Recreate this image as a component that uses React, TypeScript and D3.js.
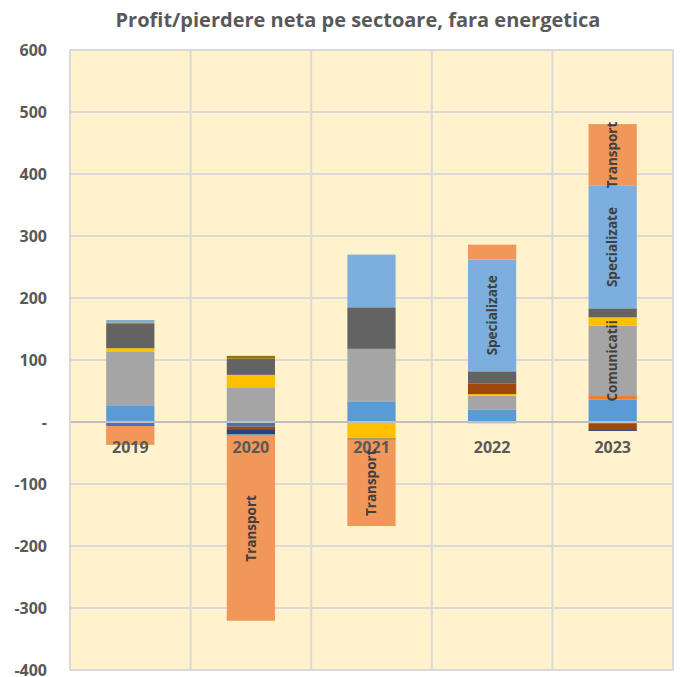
import React from "react";
import * as d3 from "d3";

// years on the category axis
const years = ["2019", "2020", "2021", "2022", "2023"];

// one array per sector, values in the order of `years`
const sectorBlue = [27, 0, 33, 19.5, 36.6];
const sectorOrange = [0, 0, 1, 0, 5.3];
const comunicatii = [86, 56, 84, 23, 113.4];
const sectorGold = [6, 20, -26.8, 2.5, 13.5];
const sectorBlue2 = [-6.5, -7.4, 0, 0, 0];
const sectorGreen = [0, 0, 0, -2, -2];
const sectorNavy = [0, 0, 0, 0, 0];
const sectorBrown = [0, -5.5, 0, 17.4, -11];
const sectorDarkGray = [40, 26.3, 67, 18.6, 14.5];
const sectorOlive = [1.5, 4.4, 0, 1, 0];
const sectorNavy2 = [0, -7.4, -1.5, 0, -1.5];
const sectorDarkGreen = [0, 0, 0, 0, 0];
const specializate = [4, -2.3, 85, 180, 197.7];
const transport = [-30.5, -298, -139.5, 24, 99.5];

const yTicks = [600, 500, 400, 300, 200, 100, 0, -100, -200, -300, -400];

const series = [
  { key: "Sector 1", values: sectorBlue, color: "#5B9BD5" },
  { key: "Sector 2", values: sectorOrange, color: "#ED7D31" },
  { key: "Comunicatii", values: comunicatii, color: "#A5A5A5" },
  { key: "Sector 4", values: sectorGold, color: "#FFC000" },
  { key: "Sector 5", values: sectorBlue2, color: "#4472C4" },
  { key: "Sector 6", values: sectorGreen, color: "#70AD47" },
  { key: "Sector 7", values: sectorNavy, color: "#255E91" },
  { key: "Sector 8", values: sectorBrown, color: "#9E480E" },
  { key: "Sector 9", values: sectorDarkGray, color: "#636363" },
  { key: "Sector 10", values: sectorOlive, color: "#997300" },
  { key: "Sector 11", values: sectorNavy2, color: "#264478" },
  { key: "Sector 12", values: sectorDarkGreen, color: "#43682B" },
  { key: "Specializate", values: specializate, color: "#7CAFDD" },
  { key: "Transport", values: transport, color: "#F1975A" },
];

// only these sectors get a label inside the bar, when the slice is big enough
const labelled = ["Comunicatii", "Specializate", "Transport"];

const W = 681;
const H = 677;
const left = 70, right = 673, top = 50, bottom = 670;
const FONT = "'Open Sans', sans-serif";

export default function App() {
  const rows = years.map((year, i) => {
    const row: any = { year };
    series.forEach((s) => (row[s.key] = s.values[i]));
    return row;
  });

  const stack = d3
    .stack()
    .keys(series.map((s) => s.key))
    .offset(d3.stackOffsetDiverging);
  const layers = stack(rows);

  const x = d3.scaleBand().domain(years).range([left, right]).paddingInner(0.6).paddingOuter(0.3);
  const y = d3.scaleLinear().domain([-400, 600]).range([bottom, top]);

  const step = x.step();
  const bounds = d3.range(years.length + 1).map((i) => left + i * step);

  return (
    <svg width={W} height={H} style={{ position: "absolute", left: 0, top: 0, background: "#fff" }}>
      <text x={358} y={27} textAnchor="middle" fontFamily={FONT} fontWeight="bold" fontSize={20} fill="#595959">
        Profit/pierdere neta pe sectoare, fara energetica
      </text>

      <rect x={left} y={top} width={right - left} height={bottom - top} fill="#FFF2CC" />

      {/* gridlines */}
      {yTicks.map((t) => (
        <line key={t} x1={left} x2={right} y1={y(t)} y2={y(t)} stroke="#D9D9D9" strokeWidth={2} />
      ))}
      {bounds.map((b, i) => (
        <line key={i} x1={b} x2={b} y1={top} y2={bottom} stroke="#D9D9D9" strokeWidth={2} />
      ))}

      {/* stacked bars */}
      {layers.map((layer, si) => (
        <g key={layer.key} fill={series[si].color}>
          {layer.map((d, i) => {
            const y0 = y(d[1]);
            const y1 = y(d[0]);
            if (Math.abs(y1 - y0) < 0.01) return null;
            return <rect key={i} x={x(years[i])} y={y0} width={x.bandwidth()} height={y1 - y0} />;
          })}
        </g>
      ))}

      {/* zero axis */}
      <line x1={left} x2={right} y1={y(0)} y2={y(0)} stroke="#BFBFBF" strokeWidth={2} />

      {/* y axis labels */}
      {yTicks.map((t) => (
        <text
          key={t}
          x={47}
          y={y(t)}
          dy="0.35em"
          textAnchor="end"
          fontFamily={FONT}
          fontWeight="bold"
          fontSize={16}
          fill="#595959"
        >
          {t === 0 ? "-" : t}
        </text>
      ))}

      {/* category labels */}
      {years.map((yr) => (
        <text
          key={yr}
          x={x(yr)! + x.bandwidth() / 2}
          y={453}
          textAnchor="middle"
          fontFamily={FONT}
          fontWeight="bold"
          fontSize={16}
          fill="#595959"
        >
          {yr}
        </text>
      ))}

      {/* data labels */}
      {layers.map((layer, si) =>
        labelled.includes(layer.key)
          ? layer.map((d, i) => {
              if (Math.abs(d[1] - d[0]) < 90) return null;
              const cx = x(years[i])! + x.bandwidth() / 2;
              const cy = (y(d[0]) + y(d[1])) / 2;
              return (
                <text
                  key={layer.key + i}
                  transform={`translate(${cx},${cy}) rotate(-90)`}
                  textAnchor="middle"
                  dy="0.35em"
                  fontFamily={FONT}
                  fontWeight="bold"
                  fontSize={13.5}
                  fill="#404040"
                >
                  {series[si].key}
                </text>
              );
            })
          : null
      )}

      <rect x={left} y={top} width={right - left} height={bottom - top} fill="none" stroke="#D9D9D9" strokeWidth={2} />
    </svg>
  );
}
